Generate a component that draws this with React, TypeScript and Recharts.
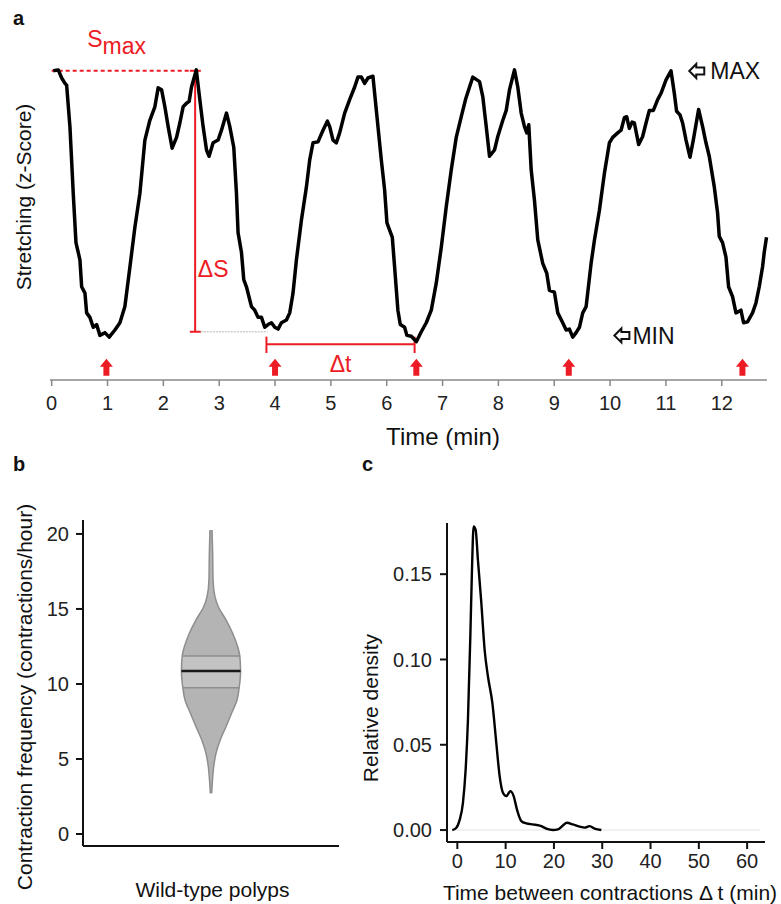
import React from 'react';
import { LineChart, Line, ComposedChart, Area, XAxis, YAxis, ReferenceLine, ReferenceDot } from 'recharts';

const FONT = '"Liberation Sans", Arial, Helvetica, sans-serif';
const RED = '#ed1c24';

// --- a: stretching trace (z-score over time, min) ---
const traceTime = [
  0.029, 0.118, 0.179, 0.238, 0.268, 0.327, 0.386, 0.435, 0.506, 0.537, 0.596, 0.626, 0.685, 0.744, 0.805, 0.864,
  0.953, 1.03, 1.132, 1.222, 1.311, 1.401, 1.49, 1.58, 1.669, 1.758, 1.848, 1.907, 1.968, 2.027, 2.086, 2.157,
  2.236, 2.295, 2.354, 2.415, 2.462, 2.504, 2.59, 2.653, 2.712, 2.773, 2.819, 2.891, 2.98, 3.041, 3.131, 3.19,
  3.261, 3.309, 3.338, 3.399, 3.44, 3.488, 3.578, 3.637, 3.696, 3.757, 3.816, 3.875, 3.936, 3.995, 4.054, 4.114,
  4.204, 4.263, 4.322, 4.383, 4.472, 4.562, 4.621, 4.68, 4.769, 4.859, 4.937, 4.979, 5.038, 5.098, 5.157, 5.247,
  5.336, 5.426, 5.485, 5.546, 5.605, 5.664, 5.753, 5.814, 5.903, 5.962, 6.004, 6.1, 6.141, 6.2, 6.243, 6.32,
  6.361, 6.44, 6.53, 6.619, 6.708, 6.798, 6.887, 6.977, 7.066, 7.156, 7.245, 7.335, 7.411, 7.483, 7.542, 7.662,
  7.721, 7.782, 7.841, 7.93, 7.989, 8.079, 8.14, 8.199, 8.288, 8.347, 8.408, 8.467, 8.508, 8.544, 8.587, 8.646,
  8.705, 8.794, 8.866, 8.914, 9.003, 9.063, 9.152, 9.213, 9.272, 9.331, 9.392, 9.451, 9.51, 9.571, 9.66, 9.72,
  9.809, 9.898, 9.988, 10.047, 10.136, 10.197, 10.256, 10.297, 10.345, 10.394, 10.435, 10.512, 10.583, 10.644,
  10.703, 10.775, 10.852, 10.912, 11.002, 11.091, 11.15, 11.191, 11.252, 11.299, 11.36, 11.431, 11.49, 11.585,
  11.657, 11.717, 11.776, 11.866, 11.925, 11.955, 12.014, 12.075, 12.122, 12.193, 12.254, 12.343, 12.39, 12.461,
  12.551, 12.612, 12.671, 12.73, 12.76, 12.801,
];
const traceZ = [
  1.48, 1.49, 1.4, 1.34, 1.32, 0.86, 0.12, -0.43, -0.62, -0.92, -0.99, -1.21, -1.26, -1.37, -1.34, -1.46,
  -1.43, -1.48, -1.4, -1.32, -1.14, -0.7, -0.26, 0.12, 0.71, 0.93, 1.08, 1.29, 1.27, 1.08, 0.86, 0.62,
  0.74, 0.9, 1.08, 1.12, 1.14, 1.3, 1.49, 1.16, 0.86, 0.6, 0.53, 0.68, 0.71, 0.82, 1.01, 0.86,
  0.63, 0.12, -0.32, -0.54, -0.84, -0.92, -1.14, -1.18, -1.26, -1.26, -1.37, -1.34, -1.32, -1.37, -1.39, -1.32,
  -1.29, -1.21, -0.99, -0.62, -0.18, 0.19, 0.49, 0.68, 0.69, 0.82, 0.92, 0.86, 0.71, 0.68, 0.79, 1.01,
  1.16, 1.3, 1.41, 1.41, 1.34, 1.4, 1.42, 1.04, 0.49, 0.16, -0.21, -0.37, -0.7, -1.18, -1.34, -1.37,
  -1.46, -1.47, -1.53, -1.42, -1.32, -1.18, -0.88, -0.48, -0.03, 0.38, 0.74, 0.97, 1.16, 1.3, 1.41, 1.36,
  1.19, 0.86, 0.53, 0.6, 0.75, 0.93, 1.04, 1.27, 1.49, 1.3, 1.01, 0.86, 0.79, 0.88, 0.38, 0.04,
  -0.4, -0.66, -0.77, -0.96, -0.98, -1.21, -1.32, -1.4, -1.39, -1.48, -1.43, -1.37, -1.21, -1.14, -0.66, -0.4,
  -0.07, 0.34, 0.68, 0.74, 0.79, 0.82, 0.96, 0.97, 0.84, 0.91, 0.9, 0.66, 0.75, 0.9,
  1.04, 1.04, 1.16, 1.23, 1.38, 1.48, 1.23, 1.03, 0.99, 0.9, 0.71, 0.52, 0.71, 1.05,
  0.86, 0.68, 0.53, 0.19, -0.1, -0.36, -0.43, -0.59, -0.92, -1.03, -1.21, -1.18, -1.32, -1.31,
  -1.21, -1.1, -0.92, -0.7, -0.54, -0.37,
];
const timeTicks = [0, 1, 2, 3, 4, 5, 6, 7, 8, 9, 10, 11, 12];
const contractionTimes = [0.98, 4.0, 6.53, 9.26, 12.37];

// annotation anchors (min, z)
const sMax = 1.48;
const sMinRef = -1.42;
const dsTime = 2.569;
const dsCap = [2.474, 2.671];
const dtStart = 3.846;
const dtEnd = 6.499;
const dtLevel = -1.559;
const dtCap = [-1.474, -1.656];
const arrowLevel = -1.81;

// --- b: contraction frequency violin ---
const violinLevels = [2.71, 3.38, 4.49, 5.38, 6.27, 7.15, 8.05, 8.93, 9.75, 10.87, 11.87, 12.49, 13.38, 14.27, 15.15, 15.82, 16.93, 18.71, 20.27];
const violinHalfWidths = [0.005, 0.01, 0.021, 0.039, 0.072, 0.117, 0.161, 0.203, 0.22, 0.231, 0.225, 0.208, 0.169, 0.117, 0.057, 0.031, 0.016, 0.013, 0.008];
const freqTicks = [0, 5, 10, 15, 20];
const q1 = 9.75;
const median = 10.87;
const q3 = 11.87;

// --- c: density of time between contractions ---
const gapTimes = [-1.04, -0.2, 0.48, 1.16, 1.72, 2.2, 2.69, 3.03, 3.37, 3.79, 4.27, 4.97, 5.65, 6.34, 7.25, 8.07, 8.76, 9.44, 10.14, 10.97, 11.66, 12.34, 13.25, 14.29, 15.65, 17.39, 18.43, 19.8, 20.83, 21.86, 22.69, 23.93, 25.32, 26.36, 27.39, 28.43, 29.81];
const gapDensity = [0, 0.0014, 0.006, 0.016, 0.0355, 0.065, 0.1135, 0.1525, 0.178, 0.176, 0.158, 0.133, 0.1057, 0.09, 0.0745, 0.051, 0.0316, 0.0219, 0.0199, 0.0228, 0.0199, 0.0121, 0.0053, 0.0039, 0.0033, 0.0023, 0.0008, 0, 0.0004, 0.0027, 0.0043, 0.0033, 0.002, 0.0014, 0.0023, 0.0008, 0];
const gapTicks = [0, 10, 20, 30, 40, 50, 60];
const densityTicks = [0, 0.05, 0.1, 0.15];

const traceData = traceTime.map((t, i) => ({ t, z: traceZ[i] }));
const violinData = violinLevels.map((v, i) => ({ v, w: violinHalfWidths[i] }));
const densityData = gapTimes.map((t, i) => ({ t, d: gapDensity[i] }));

const halfWidthAt = (v: number) => violinHalfWidths[violinLevels.indexOf(v)];

// red block arrow pointing up, cy = base of head
const UpArrow = (p: any) => {
  const { cx, cy } = p;
  return (
    <path
      d={`M${cx} ${cy - 8} L${cx + 6.5} ${cy} L${cx + 3} ${cy} L${cx + 3} ${cy + 9} L${cx - 3} ${cy + 9} L${cx - 3} ${cy} L${cx - 6.5} ${cy} Z`}
      fill={RED}
    />
  );
};

// hollow arrow pointing left + label (MAX / MIN)
const pointer = (label: string, gap: number) => (p: any) => {
  const { cx, cy } = p;
  return (
    <g>
      <path
        d={`M${cx} ${cy} L${cx + 7} ${cy - 7} L${cx + 7} ${cy - 3.5} L${cx + 15} ${cy - 3.5} L${cx + 15} ${cy + 3.5} L${cx + 7} ${cy + 3.5} L${cx + 7} ${cy + 7} Z`}
        fill="#fff"
        stroke="#111"
        strokeWidth={2}
        strokeLinejoin="miter"
      />
      <text x={cx + gap} y={cy + 8.5} fontSize={23} fill="#111">{label}</text>
    </g>
  );
};

const redText = (content: React.ReactNode) => (p: any) => (
  <text x={p.cx} y={p.cy} fontSize={23} fill={RED}>{content}</text>
);

const axisBlack = { stroke: '#111', strokeWidth: 2 };
const axisGrey = { stroke: '#888', strokeWidth: 1.5 };

function StretchPanel() {
  return (
    <LineChart width={781} height={450} data={traceData} margin={{ top: 15, right: 14, left: 50, bottom: 40 }}>
      <XAxis
        type="number"
        dataKey="t"
        domain={[-0.03, 12.81]}
        ticks={timeTicks}
        interval={0}
        height={30}
        axisLine={axisGrey}
        tickLine={axisGrey}
        tickSize={6}
        tickMargin={10}
        tick={{ fill: '#222', fontSize: 20 }}
      />
      <YAxis type="number" width={0} domain={[-1.956, 2.1]} tick={false} tickLine={false} axisLine={axisGrey} />

      {/* S max and delta S */}
      <ReferenceLine segment={[{ x: 0, y: sMax }, { x: dsCap[0], y: sMax }]} stroke={RED} strokeWidth={2} strokeDasharray="4 3" />
      <ReferenceLine segment={[{ x: dsTime, y: sMax }, { x: dsTime, y: sMinRef }]} stroke={RED} strokeWidth={2} />
      <ReferenceLine segment={[{ x: dsCap[0], y: sMax }, { x: dsCap[1], y: sMax }]} stroke={RED} strokeWidth={2} />
      <ReferenceLine segment={[{ x: dsCap[0], y: sMinRef }, { x: dsCap[1], y: sMinRef }]} stroke={RED} strokeWidth={2} />
      <ReferenceLine segment={[{ x: dsCap[1], y: sMinRef }, { x: dtStart + 0.02, y: sMinRef }]} stroke="#cfcfcf" strokeWidth={1.5} strokeDasharray="2 1" />

      {/* delta t bracket */}
      <ReferenceLine segment={[{ x: dtStart, y: dtLevel }, { x: dtEnd, y: dtLevel }]} stroke={RED} strokeWidth={2} />
      <ReferenceLine segment={[{ x: dtStart, y: dtCap[0] }, { x: dtStart, y: dtCap[1] }]} stroke={RED} strokeWidth={2} />
      <ReferenceLine segment={[{ x: dtEnd, y: dtCap[0] }, { x: dtEnd, y: dtCap[1] }]} stroke={RED} strokeWidth={2} />

      <Line type="linear" dataKey="z" stroke="#000" strokeWidth={3.5} dot={false} strokeLinejoin="round" isAnimationActive={false} />

      {contractionTimes.map((t) => (
        <ReferenceDot key={t} x={t} y={arrowLevel} r={0} shape={UpArrow} />
      ))}

      <ReferenceDot x={0.637} y={1.748} r={0} shape={redText(<>S<tspan dy={7} fontSize={23}>max</tspan></>)} />
      <ReferenceDot x={2.617} y={-0.808} r={0} shape={redText('ΔS')} />
      <ReferenceDot x={4.979} y={-1.863} r={0} shape={redText('Δt')} />
      <ReferenceDot x={11.418} y={1.478} r={0} shape={pointer('MAX', 21)} />
      <ReferenceDot x={10.077} y={-1.461} r={0} shape={pointer('MIN', 18)} />
    </LineChart>
  );
}

function ViolinPanel() {
  return (
    <ComposedChart layout="vertical" width={360} height={444} data={violinData} margin={{ top: 60, right: 21, left: 33, bottom: 28 }}>
      <XAxis type="number" domain={[-1, 1]} tick={false} tickLine={false} height={30} axisLine={axisBlack} />
      <YAxis
        type="number"
        dataKey="v"
        reversed
        domain={[-0.8, 20.93]}
        ticks={freqTicks}
        interval={0}
        width={50}
        axisLine={axisBlack}
        tickLine={axisBlack}
        tickSize={7}
        tickMargin={7}
        tick={{ fill: '#222', fontSize: 20 }}
      />
      <Area
        type="monotone"
        dataKey={(d: any) => [-d.w, d.w]}
        fill="#b4b4b4"
        fillOpacity={1}
        stroke="none"
        isAnimationActive={false}
      />
      <Area
        type="monotone"
        dataKey={(d: any) => (d.v >= q1 && d.v <= q3 ? [-d.w, d.w] : null)}
        fill="#c3c3c3"
        fillOpacity={1}
        stroke="none"
        isAnimationActive={false}
      />
      <Area
        type="monotone"
        dataKey={(d: any) => [-d.w, d.w]}
        fill="none"
        stroke="#8e8e8e"
        strokeWidth={1.5}
        isAnimationActive={false}
      />
      <ReferenceLine segment={[{ x: -halfWidthAt(q1), y: q1 }, { x: halfWidthAt(q1), y: q1 }]} stroke="#8e8e8e" strokeWidth={1.5} />
      <ReferenceLine segment={[{ x: -halfWidthAt(q3), y: q3 }, { x: halfWidthAt(q3), y: q3 }]} stroke="#8e8e8e" strokeWidth={1.5} />
      <ReferenceLine segment={[{ x: -halfWidthAt(median), y: median }, { x: halfWidthAt(median), y: median }]} stroke="#1a1a1a" strokeWidth={2.5} />
    </ComposedChart>
  );
}

function DensityPanel() {
  return (
    <LineChart width={421} height={444} data={densityData} margin={{ top: 63, right: 16, left: 32, bottom: 32 }}>
      <XAxis
        type="number"
        dataKey="t"
        domain={[-2.14, 63.7]}
        ticks={gapTicks}
        interval={0}
        height={30}
        axisLine={axisBlack}
        tickLine={axisBlack}
        tickSize={7}
        tickMargin={5}
        tick={{ fill: '#222', fontSize: 20 }}
      />
      <YAxis
        type="number"
        domain={[-0.007, 0.18]}
        ticks={densityTicks}
        interval={0}
        width={55}
        axisLine={axisBlack}
        tickLine={axisBlack}
        tickSize={7}
        tickMargin={8}
        tickFormatter={(v: number) => v.toFixed(2)}
        tick={{ fill: '#222', fontSize: 20 }}
      />
      <ReferenceLine segment={[{ x: -1, y: 0 }, { x: 62.7, y: 0 }]} stroke="#ececec" strokeWidth={1.5} />
      <Line type="monotone" dataKey="d" stroke="#000" strokeWidth={2.4} dot={false} isAnimationActive={false} />
    </LineChart>
  );
}

export default function App() {
  return (
    <div style={{ position: 'absolute', left: 0, top: 0, width: 781, height: 904, background: '#fff', fontFamily: FONT, overflow: 'hidden' }}>
      <div style={{ position: 'absolute', left: 0, top: 0 }}>
        <StretchPanel />
      </div>
      <div style={{ position: 'absolute', left: 0, top: 460 }}>
        <ViolinPanel />
      </div>
      <div style={{ position: 'absolute', left: 360, top: 460 }}>
        <DensityPanel />
      </div>
      <svg width={781} height={904} style={{ position: 'absolute', left: 0, top: 0, pointerEvents: 'none' }}>
        <g fontFamily={FONT} fill="#111">
          <text x={13} y={25} fontSize={20} fontWeight="bold">a</text>
          <text x={13} y={471} fontSize={20} fontWeight="bold">b</text>
          <text x={362} y={471} fontSize={20} fontWeight="bold">c</text>
          <text x={443} y={445} fontSize={24} textAnchor="middle">Time (min)</text>
          <text x={31} y={197} fontSize={21} textAnchor="middle" transform="rotate(-90 31 197)">Stretching (z-Score)</text>
          <text x={31.5} y={697} fontSize={21} textAnchor="middle" transform="rotate(-90 31.5 697)">Contraction frequency (contractions/hour)</text>
          <text x={212.5} y={897} fontSize={21} textAnchor="middle">Wild-type polyps</text>
          <text x={378} y={708} fontSize={21} textAnchor="middle" transform="rotate(-90 378 708)">Relative density</text>
          <text x={610} y={900} fontSize={21} textAnchor="middle">Time between contractions Δ t (min)</text>
        </g>
      </svg>
    </div>
  );
}
